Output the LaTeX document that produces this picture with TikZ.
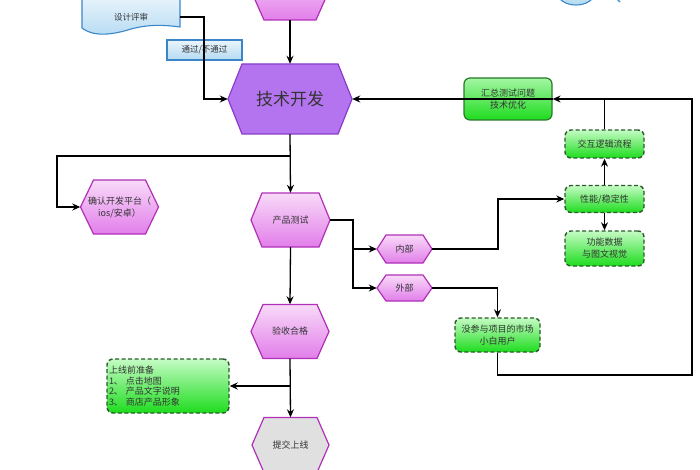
\documentclass[tikz,border=0pt]{standalone}
\usepackage{fontspec}
\newfontfamily\cjk{Noto Sans CJK SC}
\usetikzlibrary{arrows.meta,calc}
\definecolor{hexborder}{HTML}{B030B8}
\definecolor{hextop}{HTML}{F8DAF8}
\definecolor{hexbot}{HTML}{E27EEA}
\definecolor{devfill}{HTML}{B474F0}
\definecolor{devborder}{HTML}{8A3CC8}
\definecolor{gtop}{HTML}{C4FCC4}
\definecolor{gbot}{HTML}{1EDC1E}
\definecolor{gborder}{HTML}{2C5A2C}
\definecolor{sumborder}{HTML}{2A7A2A}
\definecolor{btop}{HTML}{EAF5FC}
\definecolor{bbot}{HTML}{B4DAF2}
\definecolor{bborder}{HTML}{3A86C8}
\definecolor{txt}{HTML}{333333}
\definecolor{graybox}{HTML}{E0E0E0}
\tikzset{
  arr/.style={-{Stealth[length=8pt,width=7pt]}, line width=1.3pt, black},
  ln/.style={line width=1.3pt, black},
  hexpath/.style={draw=hexborder, line width=1.2pt, top color=hextop, bottom color=hexbot},
  devpath/.style={draw=devborder, line width=1.2pt, fill=devfill},
  graypath/.style={draw=hexborder, line width=1.2pt, fill=graybox},
  hextext/.style={inner sep=0pt, align=center, text=txt, font=\cjk\fontsize{9}{12}\selectfont},
  dashbox/.style={draw=gborder, line width=1.4pt, dash pattern=on 4pt off 2.5pt, rounded corners=6pt,
     top color=gtop, bottom color=gbot, inner sep=0pt, align=center, text=txt,
     font=\cjk\fontsize{9}{12}\selectfont},
  sumbox/.style={draw=sumborder, line width=1.2pt, rounded corners=6pt,
     top color=gtop!80!gbot, bottom color=gbot, inner sep=0pt, align=center, text=txt,
     font=\cjk\fontsize{9}{12}\selectfont},
  bluebox/.style={draw=bborder, line width=1.1pt, top color=btop, bottom color=bbot,
     inner sep=0pt, align=center, text=txt, font=\cjk\fontsize{8.5}{11}\selectfont},
}
% name, cx, cy, w, h, inset, path style, text
\newcommand{\hexa}[8]{%
  \path[#7] (#2-#4/2,#3) -- (#2-#4/2+#6,#3-#5/2) -- (#2+#4/2-#6,#3-#5/2) -- (#2+#4/2,#3)
     -- (#2+#4/2-#6,#3+#5/2) -- (#2-#4/2+#6,#3+#5/2) -- cycle;
  \node[hextext, minimum width=#4, minimum height=#5] (#1) at (#2,#3) {#8};
}
\begin{document}
\begin{tikzpicture}[x=1pt,y=-1pt]
\useasboundingbox (0,0) rectangle (700,470);
\fill[white] (0,0) rectangle (700,470);

% top-right partial shape
\path[draw=bborder, line width=1.1pt, top color=btop, bottom color=bbot] (576,-8) ellipse (19 and 13);
\draw[bborder, line width=1.1pt] (616,-2) -- (620,2);

% top hexagon (cut)
\hexa{top}{290}{-7}{76}{54}{12}{hexpath}{}

% design review document shape
\path[draw=bborder, line width=1.1pt, top color=btop, bottom color=bbot]
  (82,-5) -- (180,-5) -- (180,27)
  .. controls (165,25) and (150,24) .. (131,29)
  .. controls (115,34) and (95,38) .. (82,28) -- cycle;
\node[inner sep=0pt, minimum width=98, minimum height=20, text=txt, font=\cjk\fontsize{8.5}{11}\selectfont] (rev) at (131,17) {设计评审};

% pass / fail label
\node[bluebox, minimum width=75, minimum height=20] (pass) at (204.5,50) {通过/不通过};

% main development hexagon
\hexa{dev}{290}{99}{124}{70}{14}{devpath}{\fontsize{17}{20}\selectfont 技术开发}

% summary box
\node[sumbox, minimum width=88, minimum height=42] (sum) at (508,99) {汇总测试问题\\技术优化};

% right dashed boxes
\node[dashbox, minimum width=79, minimum height=28] (inter) at (604.5,144) {交互逻辑流程};
\node[dashbox, minimum width=79, minimum height=27] (perf) at (604.5,199) {性能/稳定性};
\node[dashbox, minimum width=79, minimum height=35] (func) at (604.5,248.5) {功能数据\\与图文视觉};
\node[dashbox, minimum width=85, minimum height=34] (user) at (497.5,335) {没参与项目的市场\\小白用户};
\node[dashbox, minimum width=122, minimum height=54, align=left, text width=118,
      font=\cjk\fontsize{9}{10.5}\selectfont] (prep) at (168,386)
  {上线前准备\\1、\ 点击地图\\2、\ 产品文字说明\\3、\ 商店产品形象};

% hexagons
\hexa{plat}{119.5}{207}{78}{54}{13}{hexpath}{确认开发平台（\\ios/安卓）}
\hexa{test}{290.5}{220}{79}{54}{11}{hexpath}{产品测试}
\hexa{in}{404.5}{249}{55}{28}{9}{hexpath}{内部}
\hexa{out}{404.5}{288}{55}{26}{9}{hexpath}{外部}
\hexa{acc}{290}{331.5}{78}{54}{12}{hexpath}{验收合格}
\hexa{sub}{290.5}{445}{77}{55}{12}{graypath}{提交上线}

% helper coordinates
\coordinate (j1) at (204,99);
\coordinate (c1) at (692,99);
\coordinate (c2) at (692,375);
\coordinate (b1) at (290,156);
\coordinate (b2) at (57,156);
\coordinate (b3) at (353,220);
\coordinate (b4) at (498,249);
\coordinate (b5) at (290,386);

% connectors
\draw[arr] (rev.east) -| (j1) -- (dev.west);
\draw[arr] (top.south) -- (dev.north);
\draw[arr] (user.south) |- (c2) -- (c1) -- (sum.east);
\draw[arr] (sum.east) -- (dev.east);
\draw[ln] (inter.north) -- (inter.north |- c1);
\draw[arr] (perf.north) -- (inter.south);
\draw[arr] (perf.south) -- (func.north);
\draw[arr] (dev.south) -- (test.north);
\draw[arr] (b1) -- (b2) |- (plat.west);
\draw[arr] (test.east) -- (b3) |- (in.west);
\draw[arr] (b3) |- (out.west);
\draw[arr] (in.east) -- (b4) |- (perf.west);
\draw[arr] (out.east) -| (user.north);
\draw[arr] (test.south) -- (acc.north);
\draw[arr] (acc.south) -- (sub.north);
\draw[arr] (b5) -- (prep.east);
\end{tikzpicture}
\end{document}
